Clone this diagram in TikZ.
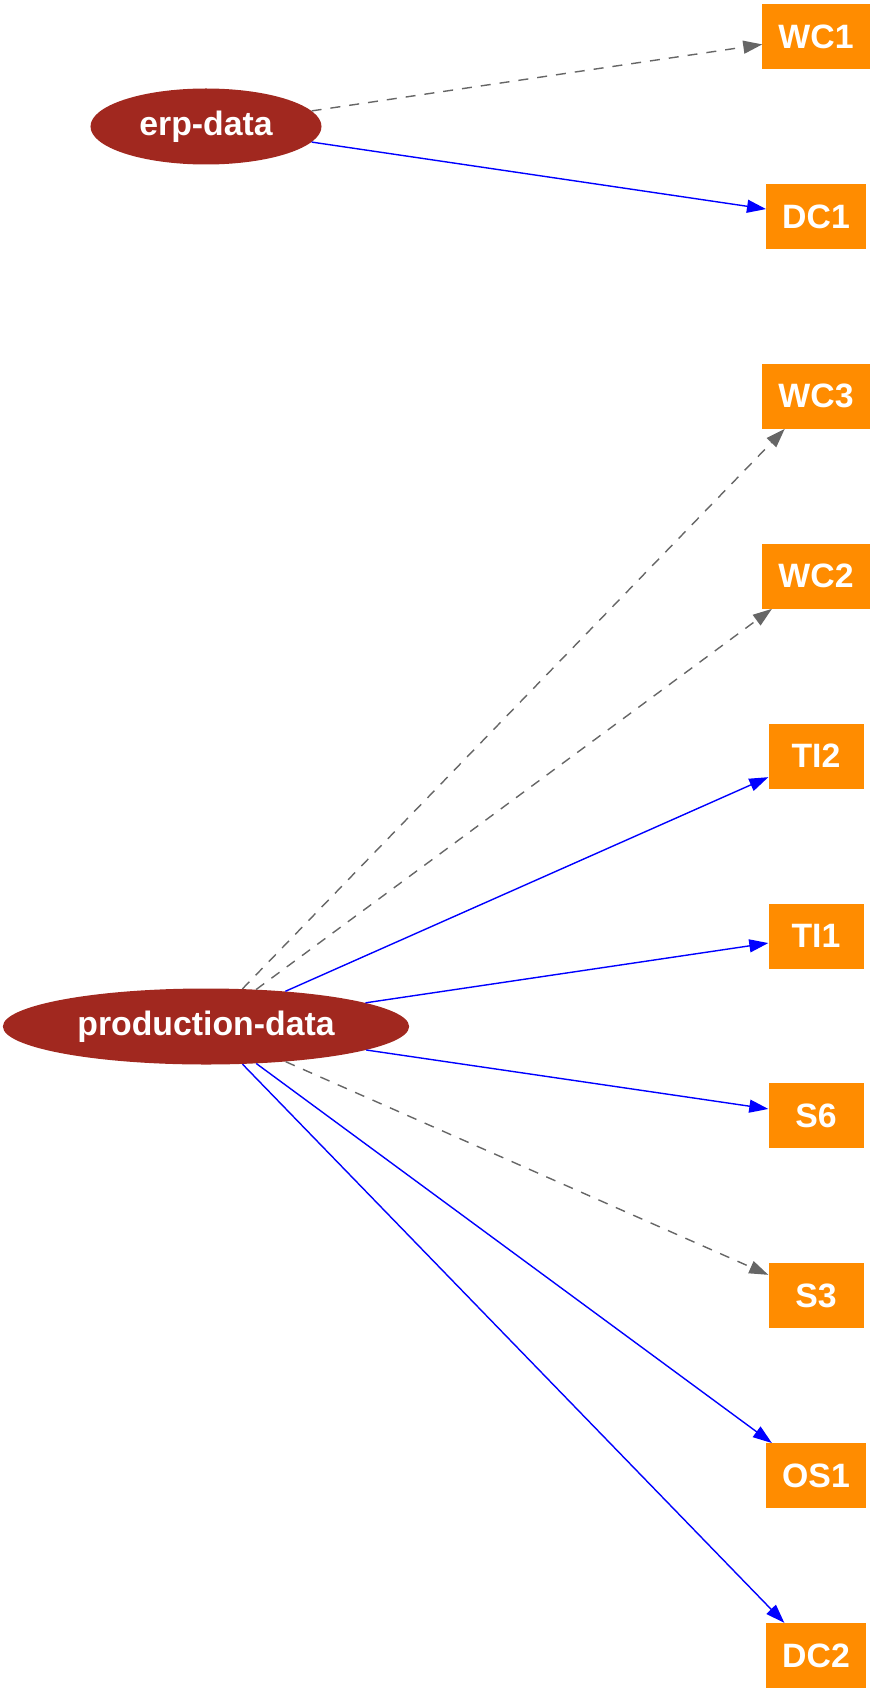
\documentclass[tikz,border=0pt]{standalone}
\usepackage{fontspec}
\setmainfont{Liberation Sans}
\usepackage{tikz}
\usetikzlibrary{arrows.meta,shapes.geometric}
\usepackage{xcolor}
\definecolor{srcred}{HTML}{A1281F}
\definecolor{tgtorange}{HTML}{FF8C00}
\definecolor{flowblue}{HTML}{0000FF}
\definecolor{linkgray}{HTML}{666666}

\begin{document}
\begin{tikzpicture}[
  x=1pt, y=-1pt,
  every node/.style={font=\fontsize{33.8}{36}\selectfont\bfseries, text=white},
  source/.style={ellipse, fill=srcred, inner xsep=15pt, inner ysep=0pt, minimum height=76pt},
  target/.style={rectangle, fill=tgtorange, inner xsep=16pt, minimum width=95pt, minimum height=65pt},
  flow/.style={draw=flowblue, line width=1.4pt, -{Triangle[length=19pt, width=13pt]}},
  link/.style={draw=linkgray, line width=1.4pt, dash pattern=on 10pt off 9pt,
    -{Triangle[length=19pt, width=13pt, fill=linkgray]}}
]
  \useasboundingbox (0,0) rectangle (873,1693);

  % sources
  \node[source] (erp) at (206,126.5) {erp-data};
  \node[source] (prod) at (206,1026.5) {production-data};

  % targets, one column
  \foreach \name/\label [count=\k from 0] in
    {wc1/WC1, dc1/DC1, wc3/WC3, wc2/WC2, ti2/TI2, ti1/TI1, s6/S6, s3/S3, os1/OS1, dc2/DC2} {
    \node[target] (\name) at (816, 36.5+179.9*\k) {\label};
  }

  % edges
  \draw[link] (erp) -- (wc1);
  \draw[flow] (erp) -- (dc1);

  \draw[link] (prod) -- (wc3);
  \draw[link] (prod) -- (wc2);
  \draw[flow] (prod) -- (ti2);
  \draw[flow] (prod) -- (ti1);
  \draw[flow] (prod) -- (s6);
  \draw[link] (prod) -- (s3);
  \draw[flow] (prod) -- (os1);
  \draw[flow] (prod) -- (dc2);
\end{tikzpicture}
\end{document}
